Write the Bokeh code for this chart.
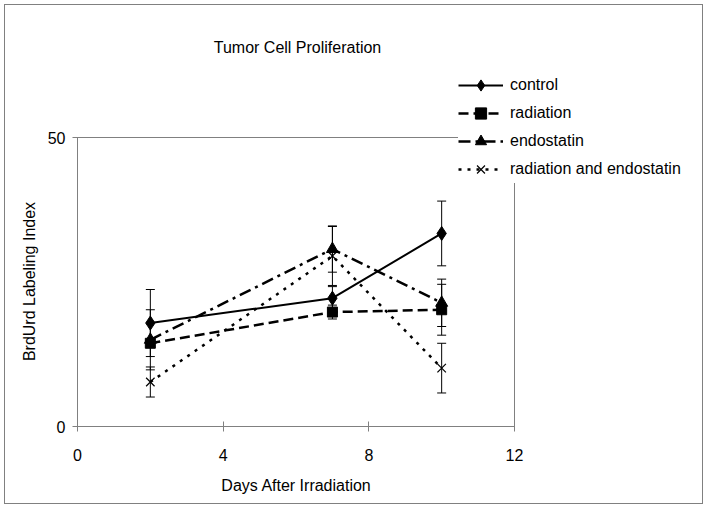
import math
from bokeh.plotting import figure
from bokeh.models import (Range1d, FixedTicker, ColumnDataSource, Whisker, TeeHead,
                          Legend, LegendItem, Label)
from bokeh.embed import file_html
from bokeh.resources import INLINE

# ---- data ----
days = [2, 7, 10]
control = [17.9, 22.2, 33.4]
control_err = [5.8, 2.0, 5.6]
radiation = [14.4, 19.8, 20.2]
radiation_err = [0.6, 1.2, 4.4]
endostatin = [15.0, 30.7, 21.4]
endostatin_err = [5.2, 4.0, 4.1]
rad_endo = [7.7, 29.5, 10.1]
rad_endo_err = [2.6, 5.1, 4.3]

x_ticks = [0, 4, 8, 12]
y_ticks = [0, 50]

title_text = "Tumor Cell Proliferation"
x_label = "Days After Irradiation"
y_label = "BrdUrd Labeling Index"
names = ["control", "radiation", "endostatin", "radiation and endostatin"]

FONT = "Liberation Sans"
GREY = "#808080"

# layout (pixels, canvas coordinates)
W, H = 699, 500
PA_LEFT, PA_RIGHT = 72, 509       # plot area left / right edge
PA_TOP, PA_BOTTOM = 132, 421      # plot area top / bottom edge
x0, x1 = x_ticks[0], x_ticks[-1]
y0, y1 = y_ticks[0], y_ticks[-1]
kx = (PA_RIGHT - PA_LEFT) / (x1 - x0)
ky = (PA_BOTTOM - PA_TOP) / (y1 - y0)
x_range = Range1d(x0 - PA_LEFT / kx, x1 + (W - PA_RIGHT) / kx)
y_range = Range1d(y0 - (H - PA_BOTTOM) / ky, y1 + PA_TOP / ky)

p = figure(width=W, height=H, output_backend="svg", toolbar_location=None,
           x_range=x_range, y_range=y_range,
           min_border_left=0, min_border_right=0, min_border_top=0,
           min_border_bottom=0)
p.styles = {"border": "1px solid #808080", "margin": "4px"}

p.outline_line_color = None
p.xgrid.visible = False
p.ygrid.visible = False

for ax, ticks in ((p.xaxis[0], x_ticks), (p.yaxis[0], y_ticks)):
    ax.ticker = FixedTicker(ticks=ticks)
    ax.bounds = (ticks[0], ticks[-1])
    ax.axis_line_color = GREY
    ax.major_tick_line_color = GREY
    ax.minor_tick_line_color = None
    ax.major_tick_in = 5
    ax.major_tick_out = 5
    ax.major_label_text_font = FONT
    ax.major_label_text_font_size = "16px"
    ax.major_label_text_color = "black"
p.xaxis.fixed_location = y0
p.yaxis.fixed_location = x0
p.xaxis.major_label_standoff = 17
p.yaxis.major_label_standoff = 7

# plot-area border (grey box around 0..12 x 0..50)
p.quad(left=[x0], right=[x1], bottom=[y0], top=[y1], fill_color=None,
       line_color=GREY, line_width=1)

series = [
    (control, control_err, dict(line_dash="solid", line_width=2), "diamond", 14, 1),
    (radiation, radiation_err, dict(line_dash="10 5", line_width=2.5), "square", 10, 1),
    (endostatin, endostatin_err, dict(line_dash="12 5 3 5", line_width=2.5), "triangle", 12, 1),
    (rad_endo, rad_endo_err, dict(line_dash="3 6", line_width=2.5), "x", 12, 1.2),
]

items = []
for (vals, errs, lstyle, marker, msize, mlw), name in zip(series, names):
    src = ColumnDataSource(dict(
        x=days, y=vals,
        upper=[v + e for v, e in zip(vals, errs)],
        lower=[v - e for v, e in zip(vals, errs)],
    ))
    w = Whisker(source=src, base="x", upper="upper", lower="lower", dimension="height",
                line_color="black", line_width=1,
                upper_head=TeeHead(size=9, line_color="black", line_width=1),
                lower_head=TeeHead(size=9, line_color="black", line_width=1))
    p.add_layout(w)
    r1 = p.line("x", "y", source=src, line_color="black", **lstyle)
    r2 = p.scatter("x", "y", source=src, marker=marker, size=msize,
                   fill_color="black", line_color="black", line_width=mlw)
    items.append(LegendItem(label=name, renderers=[r1, r2]))

legend = Legend(items=items, location=(453, 322), padding=0, spacing=0,
                glyph_width=45, glyph_height=28, label_height=28,
                label_standoff=7, border_line_color=None,
                background_fill_color="white", background_fill_alpha=1,
                label_text_font=FONT, label_text_font_size="16px",
                label_text_color="black", margin=0)
p.add_layout(legend, "center")

def text_label(txt, sx, sy, angle=0.0):
    return Label(x=sx, y=sy, x_units="screen", y_units="screen", text=txt,
                 angle=angle, text_align="center", text_baseline="middle",
                 text_font=FONT, text_font_size="16px", text_color="black")

p.add_layout(text_label(title_text, 292, 458))
p.add_layout(text_label(x_label, 291, 20))
p.add_layout(text_label(y_label, 24, 224, math.pi / 2))

open("out.html", "w").write(file_html(p, INLINE))
